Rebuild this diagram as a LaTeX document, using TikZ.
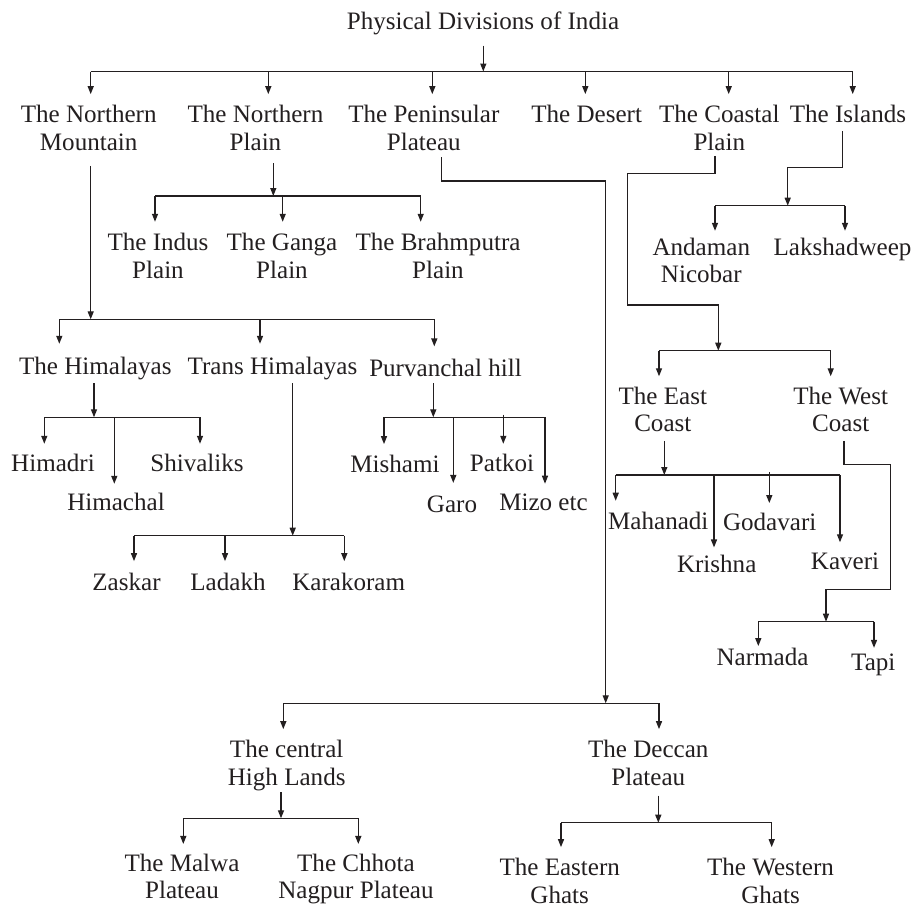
\documentclass[tikz,border=0pt]{standalone}
\usepackage{fontspec}
\setmainfont{Liberation Serif}
\usetikzlibrary{arrows.meta}
\definecolor{ink}{RGB}{35,31,32}

\tikzset{every picture/.style={line width=1pt}}
\tikzset{
  lbl/.style={font={\fontsize{18.8}{20.6}\selectfont}, align=center, anchor=base, inner sep=0.75pt, text=ink},
  link/.style={draw=ink},
  arr/.style={link, -{Triangle[length=6pt,width=4.5pt]}},
  tochild/.style={arr, shorten >=7pt}
}

\begin{document}
\begin{tikzpicture}[x=0.75pt,y=0.75pt,yscale=-1,xscale=1]
\useasboundingbox (0,0) rectangle (913,907);

% Text Node
\node[lbl] (title) at (483,29.2) {Physical Divisions of India};
% Text Node
\node[lbl] (nmt) at (88.7,150) {The Northern\\Mountain};
\node[lbl] (npl) at (255.5,150) {The Northern\\Plain};
\node[lbl] (pen) at (423.8,150) {The Peninsular\\Plateau};
\node[lbl] (des) at (586.7,122.5) {The Desert};
\node[lbl] (cst) at (719.3,150) {The Coastal\\Plain};
\node[lbl] (isl) at (848,122.5) {The Islands};
% Text Node
\node[lbl] (ind) at (158,278.3) {The Indus\\Plain};
\node[lbl] (gan) at (282,278.3) {The Ganga\\Plain};
\node[lbl] (bra) at (438,278.3) {The Brahmputra\\Plain};
\node[lbl] (and) at (701.3,282.7) {Andaman\\Nicobar};
\node[lbl] (lak) at (842.5,255.2) {Lakshadweep};
% Text Node
\node[lbl] (him) at (95.3,374.2) {The Himalayas};
\node[lbl] (trn) at (272.5,374.2) {Trans Himalayas};
\node[lbl] (pur) at (445.5,376.8) {Purvanchal hill};
\node[lbl] (est) at (662.8,431.5) {The East\\Coast};
\node[lbl] (wst) at (840.7,431.5) {The West\\Coast};
% Text Node
\node[lbl] (hmd) at (53,471.5) {Himadri};
\node[lbl] (hmc) at (116,510.2) {Himachal};
\node[lbl] (shv) at (197,471.5) {Shivaliks};
\node[lbl] (mis) at (395,472.5) {Mishami};
\node[lbl] (gar) at (452,512.5) {Garo};
\node[lbl] (pat) at (502,471.5) {Patkoi};
\node[lbl] (miz) at (543.5,510) {Mizo etc};
\node[lbl] (mah) at (658.3,529.8) {Mahanadi};
\node[lbl] (god) at (769.7,530.8) {Godavari};
\node[lbl] (kri) at (716.7,572.5) {Krishna};
\node[lbl] (kav) at (845,569.2) {Kaveri};
% Text Node
\node[lbl] (zas) at (126.5,590.2) {Zaskar};
\node[lbl] (lad) at (228,590.2) {Ladakh};
\node[lbl] (kar) at (348.7,590.2) {Karakoram};
\node[lbl] (nar) at (762.5,665.8) {Narmada};
\node[lbl] (tap) at (873.3,670.8) {Tapi};
% Text Node
\node[lbl] (chl) at (286.7,785) {The central\\High Lands};
\node[lbl] (dec) at (648.3,785) {The Deccan\\Plateau};
\node[lbl] (mlw) at (182,898.5) {The Malwa\\Plateau};
\node[lbl] (chh) at (356,898.5) {The Chhota\\Nagpur Plateau};
\node[lbl] (eas) at (559.7,903) {The Eastern\\Ghats};
\node[lbl] (wes) at (770.5,903) {The Western\\Ghats};

%Junctions and bar ends
\coordinate (jTop) at (483.3,71.5);
\coordinate (tNM) at (90.7,71.5);
\coordinate (tNP) at (268.3,71.5);
\coordinate (tPE) at (432.3,71.5);
\coordinate (tDE) at (585.3,71.5);
\coordinate (tCP) at (728.7,71.5);
\coordinate (tIS) at (852.7,71.5);

\coordinate (jNP) at (273.3,196);
\coordinate (tInd) at (155,196);
\coordinate (tGan) at (282.7,196);
\coordinate (tBra) at (420.7,196);

\coordinate (jIS) at (787.7,205.7);
\coordinate (tAnd) at (715,205.7);
\coordinate (tLak) at (845,205.7);

\coordinate (jNM) at (90.7,319.3);
\coordinate (tHim) at (59.3,319.3);
\coordinate (tTrn) at (260,319.3);
\coordinate (tPur) at (434.3,319.3);

\coordinate (jCP) at (718.3,350.7);
\coordinate (tEst) at (659,350.7);
\coordinate (tWst) at (830.7,350.7);

\coordinate (jHim) at (94,417.3);
\coordinate (tHmd) at (44.3,417.3);
\coordinate (tHmc) at (114.3,417.3);
\coordinate (tShv) at (200,417.3);

\coordinate (jPur) at (433.3,417.3);
\coordinate (tMis) at (384,417.3);
\coordinate (tGar) at (453.3,417.3);
\coordinate (tPat) at (503.3,417.3);
\coordinate (tMiz) at (545,417.3);

\coordinate (jEst) at (664.3,475);
\coordinate (tMah) at (615.7,475);
\coordinate (tKri) at (714,475);
\coordinate (tGod) at (769.3,475);
\coordinate (tKav) at (840,475);

\coordinate (jTrn) at (292.7,535.7);
\coordinate (tZas) at (134,535.7);
\coordinate (tLad) at (225,535.7);
\coordinate (tKar) at (344.3,535.7);

\coordinate (jWst) at (826,621.7);
\coordinate (tNar) at (758.3,621.7);
\coordinate (tTap) at (874,621.7);

\coordinate (jPE) at (605.7,703.3);
\coordinate (tChl) at (283.3,703.3);
\coordinate (tDec) at (659,703.3);

\coordinate (jChl) at (281,818.3);
\coordinate (tMlw) at (183.3,818.3);
\coordinate (tChh) at (358.3,818.3);

\coordinate (jDec) at (658.3,822.7);
\coordinate (tEas) at (561,822.7);
\coordinate (tWes) at (771.7,822.7);

%Physical Divisions of India
\draw[arr, shorten <=7pt] (title.south -| jTop) -- (jTop);
\draw[link] (tNM) -- (tIS);
\draw[tochild] (tNM) -- (tNM |- nmt.north);
\draw[tochild] (tNP) -- (tNP |- npl.north);
\draw[tochild] (tPE) -- (tPE |- pen.north);
\draw[tochild] (tDE) -- (tDE |- des.north);
\draw[tochild] (tCP) -- (tCP |- cst.north);
\draw[tochild] (tIS) -- (tIS |- isl.north);

%The Northern Plain
\draw[arr, shorten <=8.5pt] (npl.south -| jNP) -- (jNP);
\draw[link] (tInd) -- (tBra);
\draw[tochild, shorten >=7.5pt] (tInd) -- (tInd |- ind.north);
\draw[tochild, shorten >=7.5pt] (tGan) -- (tGan |- gan.north);
\draw[tochild, shorten >=7.5pt] (tBra) -- (tBra |- bra.north);

%The Islands
\draw[arr, shorten <=5pt] (isl.south -| 842.7,0) |- (jIS |- 0,167.3) -- (jIS);
\draw[link] (tAnd) -- (tLak);
\draw[tochild, shorten >=4pt] (tAnd) -- (tAnd |- and.north);
\draw[tochild, shorten >=4pt] (tLak) -- (tLak |- lak.north);

%The Northern Mountain
\draw[arr, shorten <=10.5pt] (nmt.south -| jNM) -- (jNM);
\draw[link] (tHim) -- (tPur);
\draw[tochild, shorten >=8.5pt] (tHim) -- (tHim |- him.north);
\draw[tochild, shorten >=8.5pt] (tTrn) -- (tTrn |- trn.north);
\draw[tochild, shorten >=8.5pt] (tPur) -- (tPur |- pur.north);

%The Coastal Plain
\draw[arr, shorten <=3pt] (cst.south -| 715,0) |- (627.3,173.3) |- (jCP |- 0,305) -- (jCP);
\draw[link] (tEst) -- (tWst);
\draw[tochild, shorten >=6.5pt] (tEst) -- (tEst |- est.north);
\draw[tochild, shorten >=6.5pt] (tWst) -- (tWst |- wst.north);

%The Himalayas
\draw[arr, shorten <=1.5pt] (him.south -| jHim) -- (jHim);
\draw[link] (tHmd) -- (tShv);
\draw[tochild, shorten >=6.5pt] (tHmd) -- (tHmd |- hmd.north);
\draw[tochild, shorten >=5.5pt] (tHmc) -- (tHmc |- hmc.north);
\draw[tochild, shorten >=6.5pt] (tShv) -- (tShv |- shv.north);

%Purvanchal hill
\draw[arr, shorten <=3.5pt] (pur.south -| jPur) -- (jPur);
\draw[link] (tMis) -- (tMiz);
\draw[tochild] (tMis) -- (tMis |- mis.north);
\draw[tochild, shorten >=8.5pt] (tGar) -- (tGar |- gar.north);
\draw[tochild, shorten >=6.5pt] ([yshift=-2pt]tPat) -- (tPat |- pat.north);
\draw[tochild, shorten >=6pt] (tMiz) -- (tMiz |- miz.north);

%The East Coast
\draw[arr, shorten <=5.5pt] (est.south -| jEst) -- (jEst);
\draw[link] (tMah) -- (tKav);
\draw[tochild, shorten >=7.5pt] (tMah) -- (tMah |- mah.north);
\draw[tochild, shorten >=4.5pt] (tKri) -- (tKri |- kri.north);
\draw[tochild, shorten >=6.5pt] ([yshift=-2pt]tGod) -- (tGod |- god.north);
\draw[tochild, shorten >=6.5pt] (tKav) -- (tKav |- kav.north);

%Trans Himalayas
\draw[arr, shorten <=1.5pt] (trn.south -| jTrn) -- (jTrn);
\draw[link] (tZas) -- (tKar);
\draw[tochild, shorten >=7.5pt] (tZas) -- (tZas |- zas.north);
\draw[tochild, shorten >=7.5pt] (tLad) -- (tLad |- lad.north);
\draw[tochild, shorten >=7.5pt] (tKar) -- (tKar |- kar.north);

%The West Coast
\draw[arr, shorten <=5.5pt] (wst.south -| 844,0) |- (890.7,464.3) |- (jWst |- 0,589.3) -- (jWst);
\draw[link] (tNar) -- (tTap);
\draw[tochild, shorten >=0.5pt] (tNar) -- (tNar |- nar.north);
\draw[tochild, shorten >=3.5pt] (tTap) -- (tTap |- tap.north);

%The Peninsular Plateau
\draw[arr, shorten <=4pt] (pen.south -| 441.7,0) |- (jPE |- 0,181) -- (jPE);
\draw[link] (tChl) -- (tDec);
\draw[tochild] (tChl) -- (tChl |- chl.north);
\draw[tochild] (tDec) -- (tDec |- dec.north);

%The central High Lands
\draw[arr] (chl.south -| jChl) -- (jChl);
\draw[link] (tMlw) -- (tChh);
\draw[tochild, shorten >=6pt] (tMlw) -- (tMlw |- mlw.north);
\draw[tochild, shorten >=6pt] (tChh) -- (tChh |- chh.north);

%The Deccan Plateau
\draw[arr, shorten <=6.5pt] (dec.south -| jDec) -- (jDec);
\draw[link] (tEas) -- (tWes);
\draw[tochild] (tEas) -- (tEas |- eas.north);
\draw[tochild] (tWes) -- (tWes |- wes.north);

\end{tikzpicture}
\end{document}
